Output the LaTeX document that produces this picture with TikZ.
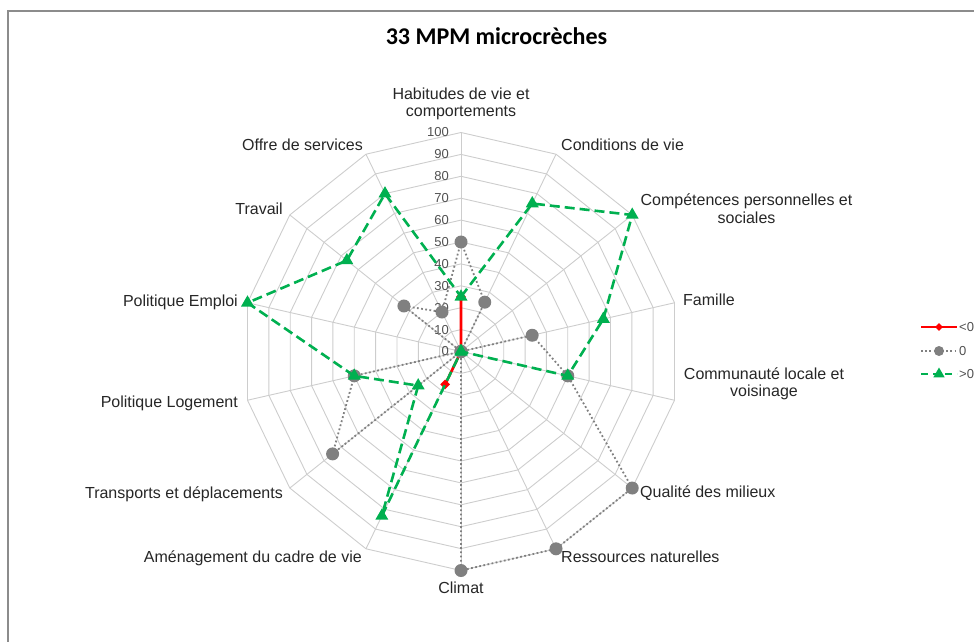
\documentclass[tikz,border=0pt]{standalone}
\usepackage{fontspec}
\setmainfont{Liberation Sans}
\newfontfamily\titlefont{Carlito}
\usetikzlibrary{shapes.geometric}
\definecolor{gridc}{RGB}{205,205,205}
\definecolor{tickc}{RGB}{80,80,80}
\definecolor{redc}{RGB}{255,0,0}
\definecolor{grayc}{RGB}{128,128,128}
\definecolor{greenc}{RGB}{0,176,80}
\definecolor{borderc}{RGB}{140,140,140}
\definecolor{txtc}{RGB}{38,38,38}
\begin{document}
\begin{tikzpicture}[x=1pt,y=-1pt,
  lbl/.style={font=\fontsize{16}{17.5}\selectfont, inner sep=0pt, align=center, text=txtc},
  tick/.style={font=\fontsize{13}{15}\selectfont, text=tickc, anchor=east, inner sep=0pt},
  legtext/.style={font=\fontsize{13}{15}\selectfont, text=tickc, anchor=west, inner sep=0pt},
  gridline/.style={draw=gridc, line width=0.9pt},
  redline/.style={draw=redc, line width=2.6pt},
  grayline/.style={draw=grayc, line width=1.8pt, dash pattern=on 1.8pt off 2.4pt},
  greenline/.style={draw=greenc, line width=2.6pt, dash pattern=on 10pt off 5pt},
  redmark/.style={diamond, fill=redc, inner sep=0pt, minimum size=10pt},
  graymark/.style={circle, fill=grayc, inner sep=0pt, minimum size=13pt},
  greenmark/.style={regular polygon, regular polygon sides=3, fill=greenc, inner sep=0pt, minimum size=15pt},
]
\useasboundingbox (0,0) rectangle (974,642);
\coordinate (bl) at (8,642);
\coordinate (tl) at (8,11);
\coordinate (tr) at (974,11);
\draw[borderc, line width=1.3pt] (bl) -- (tl) -- (tr);

\node[font=\titlefont\bfseries\fontsize{24}{28}\selectfont, anchor=base, inner sep=0pt] (title) at (496.5,45) {33 MPM microcrèches};

\begin{scope}[shift={(461,351.5)}]
  \coordinate (O) at (0,0);
  % grid polygons
  \foreach \l in {1,...,10}{
    \draw[gridline] (-90:{\l*21.9}) \foreach \k in {1,...,13}{ -- ({\k*360/14-90}:{\l*21.9})} -- cycle;
  }
  % spokes
  \foreach \k in {0,...,13}{
    \coordinate (ax\k) at ({\k*360/14-90}:219);
    \draw[gridline] (O) -- (ax\k);
  }
  % tick labels
  \foreach \v in {0,10,...,100}{
    \node[tick] (t\v) at (-12,{-\v*2.19}) {\v};
  }
  % data coordinates
  \foreach \v [count=\k from 0] in {25,0,0,0,0,0,0,0,16.67,0,0,0,0,0}
    \coordinate (r\k) at ({\k*360/14-90}:{\v*2.19});
  \foreach \v [count=\k from 0] in {50,25,0,33.33,50,100,100,100,0,75,50,0,33.33,20}
    \coordinate (g\k) at ({\k*360/14-90}:{\v*2.19});
  \foreach \v [count=\k from 0] in {25,75,100,66.67,50,0,0,0,83.33,25,50,100,66.67,80}
    \coordinate (v\k) at ({\k*360/14-90}:{\v*2.19});
  % series <0
  \draw[redline] (r0) \foreach \k in {1,...,13}{ -- (r\k)} -- cycle;
  \foreach \k in {0,...,13} \node[redmark] (rm\k) at (r\k) {};
  % series 0
  \draw[grayline] (g0) \foreach \k in {1,...,13}{ -- (g\k)} -- cycle;
  \foreach \k in {0,...,13} \node[graymark] (gm\k) at (g\k) {};
  % series >0
  \draw[greenline] (v0) \foreach \k in {1,...,13}{ -- (v\k)} -- cycle;
  \foreach \k in {0,...,13} \node[greenmark] (vm\k) at (v\k) {};
\end{scope}

% axis labels
\node[lbl] (L0) at (461,104) {Habitudes de vie et\\comportements};
\node[lbl, anchor=base west] (L1) at (561,150.5) {Conditions de vie};
\node[lbl] (L2) at (746.5,208.5) {Compétences personnelles et\\sociales};
\node[lbl, anchor=base west] (L3) at (683,305.5) {Famille};
\node[lbl] (L4) at (764,384) {Communauté locale et\\voisinage};
\node[lbl, anchor=base west] (L5) at (640,497.5) {Qualité des milieux};
\node[lbl, anchor=base west] (L6) at (561,562.5) {Ressources naturelles};
\node[lbl, anchor=base] (L7) at (461,593.5) {Climat};
\node[lbl, anchor=base east] (L8) at (362,562.5) {Aménagement du cadre de vie};
\node[lbl, anchor=base east] (L9) at (283,498.5) {Transports et déplacements};
\node[lbl, anchor=base east] (L10) at (238,407.5) {Politique Logement};
\node[lbl, anchor=base east] (L11) at (238,306.5) {Politique Emploi};
\node[lbl, anchor=base east] (L12) at (283,214.5) {Travail};
\node[lbl, anchor=base east] (L13) at (363,150.5) {Offre de services};

% legend
\coordinate (la1) at (921,327); \coordinate (la2) at (957,327);
\draw[redline] (la1) -- (la2);
\node[redmark, minimum size=8pt] (lam) at (939,327) {};
\node[legtext] (lat) at (959,327) {<0};
\coordinate (lb1) at (921,351); \coordinate (lb2) at (957,351);
\draw[grayline] (lb1) -- (lb2);
\node[graymark, minimum size=10pt] (lbm) at (939,351) {};
\node[legtext] (lbt) at (959,351) {0};
\coordinate (lc1) at (921,374); \coordinate (lc2) at (957,374);
\draw[greenline, dash pattern=on 7pt off 5pt] (lc1) -- (lc2);
\node[greenmark, minimum size=13pt] (lcm) at (939,374) {};
\node[legtext] (lct) at (959,374) {>0};
\end{tikzpicture}
\end{document}
